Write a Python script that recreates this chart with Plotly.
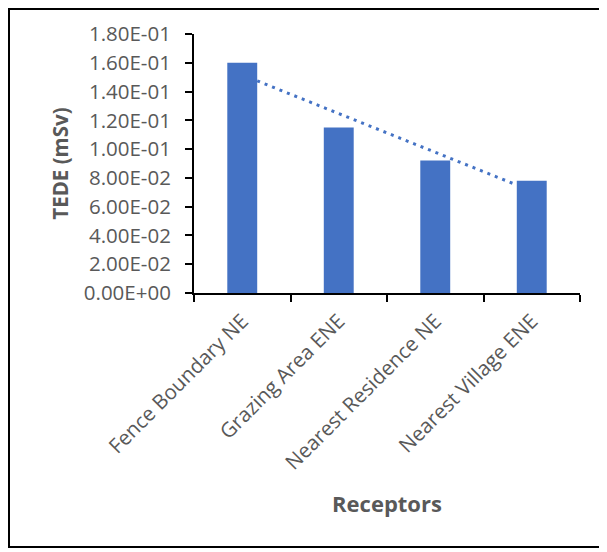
import numpy as np
import plotly.graph_objects as go

categories = ["Fence Boundary NE", "Grazing Area ENE", "Nearest Residence NE", "Nearest Village ENE"]
tede_values = [0.160, 0.115, 0.092, 0.078]
y_tick_values = [0.0, 0.02, 0.04, 0.06, 0.08, 0.10, 0.12, 0.14, 0.16, 0.18]
y_tick_labels = ["0.00E+00", "2.00E-02", "4.00E-02", "6.00E-02", "8.00E-02",
                 "1.00E-01", "1.20E-01", "1.40E-01", "1.60E-01", "1.80E-01"]

BLUE = "#4472C4"
GREY = "#595959"
FONT = "Open Sans"
bar_width = 0.31

# page body has an 8px margin, so the figure is sized to fill the rest of the window
W, H = 599, 544
L, R, T, B = 186, 27, 26, 259
PW, PH = W - L - R, H - T - B

# linear trendline (least squares), drawn between bar edges like Excel
xi = np.arange(1, len(categories) + 1)
slope, intercept = np.polyfit(xi, tede_values, 1)
tx = np.array([xi[0] + bar_width / 2, xi[-1] - bar_width / 2])
ty = slope * tx + intercept

fig = go.Figure()
fig.add_trace(go.Bar(x=categories, y=tede_values, width=bar_width,
                     marker=dict(color=BLUE, line=dict(width=0)), showlegend=False))
fig.add_trace(go.Scatter(x=tx, y=ty, xaxis="x2", mode="lines",
                         line=dict(color=BLUE, width=3, dash="3px,5px"), showlegend=False))

fig.update_layout(
    width=W, height=H,
    margin=dict(l=L, r=R, t=T, b=B),
    paper_bgcolor="white", plot_bgcolor="white",
    font=dict(family=FONT, color=GREY, size=20),
    xaxis=dict(
        type="category", tickson="boundaries", ticks="outside", ticklen=7,
        tickwidth=2, tickcolor="black", showline=True, linecolor="black",
        linewidth=2, showgrid=False, tickangle=-45, automargin=False,
        ticklabelstandoff=6,
        tickfont=dict(family=FONT, size=20.5, color=GREY),
        title=dict(text="<b>Receptors</b>", font=dict(family=FONT, size=22, color=GREY),
                   standoff=22),
        range=[-0.5, len(categories) - 0.5],
    ),
    xaxis2=dict(overlaying="x", range=[0.5, len(categories) + 0.5], visible=False),
    yaxis=dict(
        range=[0, 0.18], tickvals=y_tick_values, ticktext=y_tick_labels,
        ticks="outside", ticklen=7, tickwidth=2, tickcolor="black",
        showline=True, linecolor="black", linewidth=2, showgrid=False, zeroline=False,
        automargin=False, ticklabelstandoff=10,
        tickfont=dict(family=FONT, size=20.5, color=GREY),
        title=dict(text="<b>TEDE (mSv)</b>", font=dict(family=FONT, size=20.5, color=GREY),
                   standoff=10),
    ),
    shapes=[dict(type="rect", xref="paper", yref="paper",
                 x0=(1 - L) / PW, x1=(593 - L) / PW,
                 y0=(T + PH - 539) / PH, y1=(T + PH - 1) / PH,
                 line=dict(color="black", width=2), fillcolor="rgba(0,0,0,0)",
                 layer="below")],
)

fig.write_html("out.html")
